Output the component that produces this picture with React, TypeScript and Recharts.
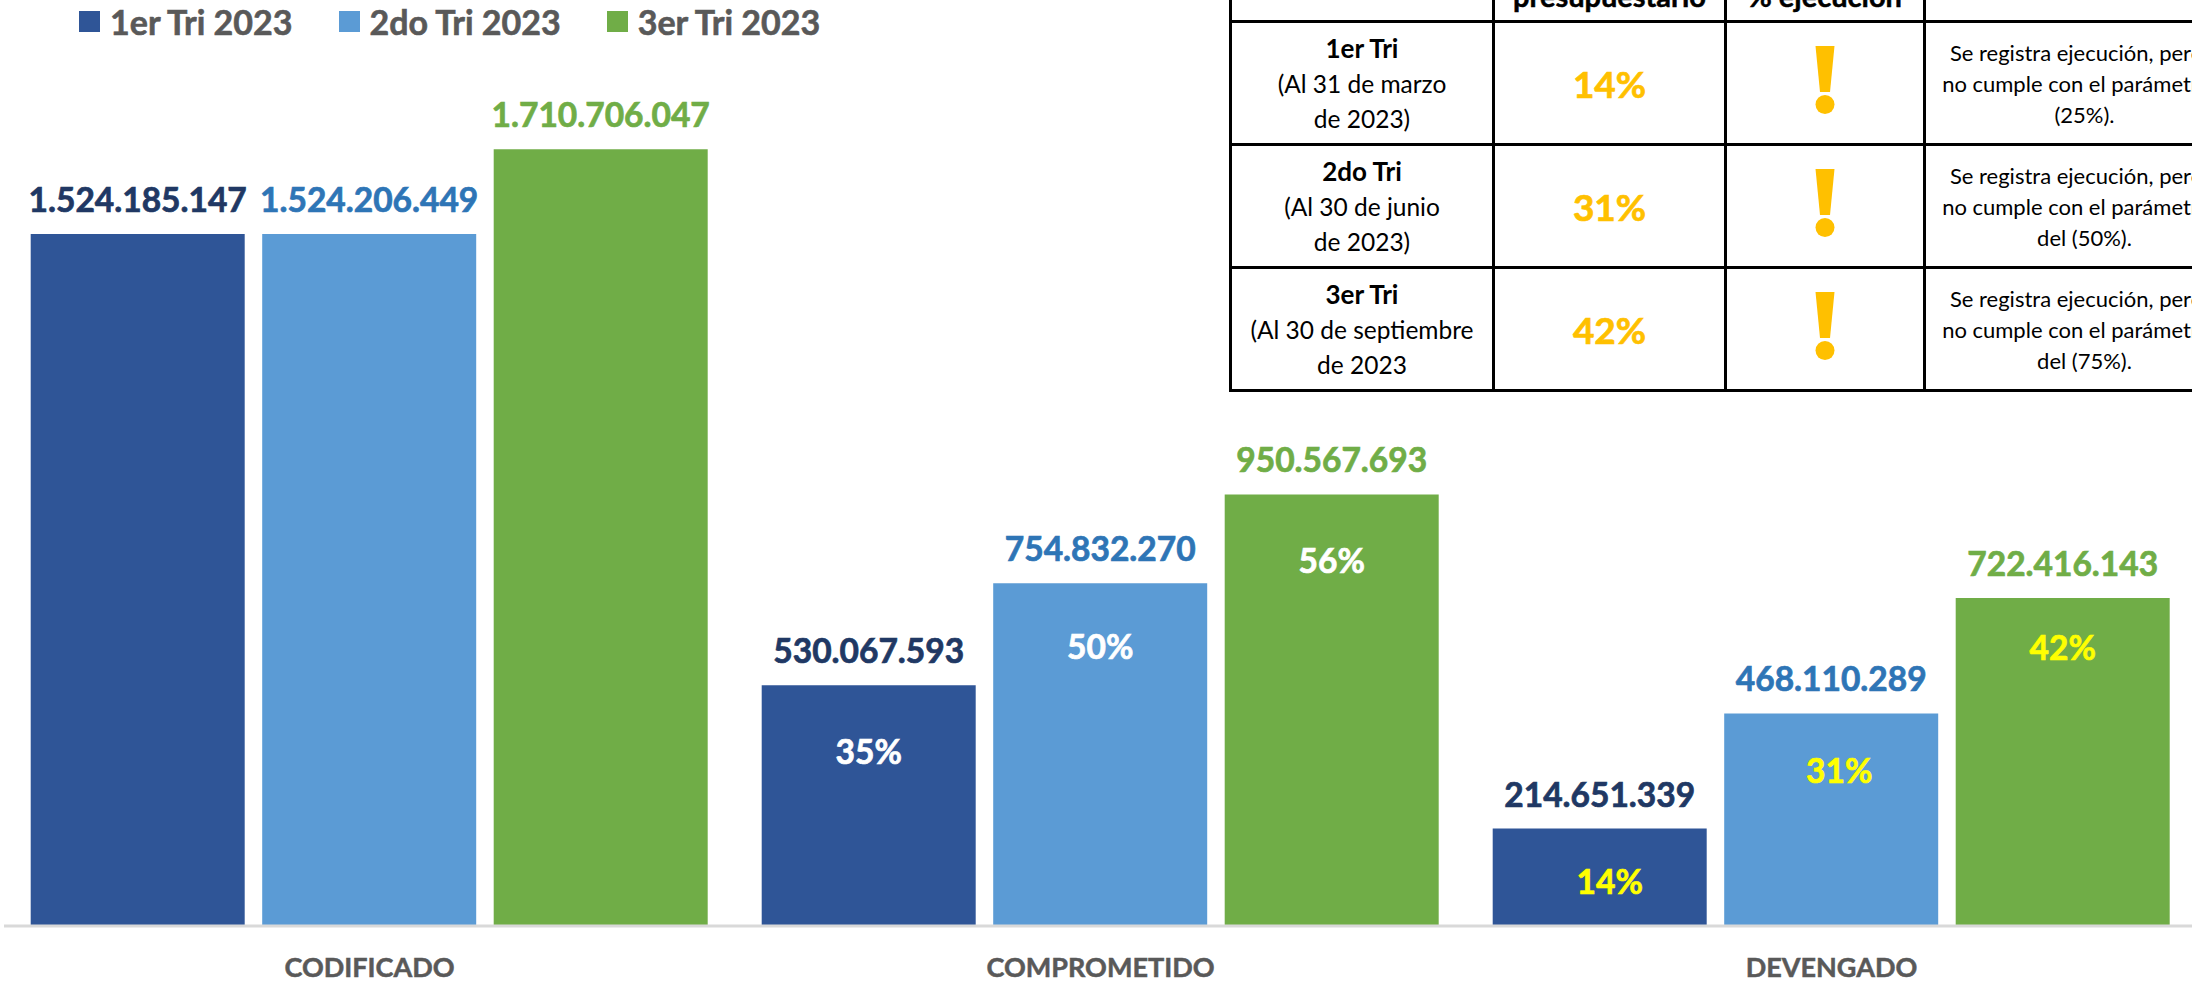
import { BarChart, Bar, XAxis, YAxis, Legend, LabelList } from "recharts"

const categories = ["CODIFICADO", "COMPROMETIDO", "DEVENGADO"]
const tri1 = [1524185147, 530067593, 214651339]
const tri2 = [1524206449, 754832270, 468110289]
const tri3 = [1710706047, 950567693, 722416143]
const pct1 = [null, 35, 14]
const pct2 = [null, 50, 31]
const pct3 = [null, 56, 42]

const seriesNames = ["1er Tri 2023", "2do Tri 2023", "3er Tri 2023"]

const tableTri = ["1er Tri", "2do Tri", "3er Tri"]
const tableDates = [
  ["(Al 31 de marzo", "de 2023)"],
  ["(Al 30 de junio", "de 2023)"],
  ["(Al 30 de septiembre", "de 2023"],
]
const tablePct = ["14%", "31%", "42%"]
const tableNotes = ["(25%).", "del (50%).", "del (75%)."]

const data = categories.map((name, i) => ({
  name,
  tri1: tri1[i],
  tri2: tri2[i],
  tri3: tri3[i],
  pct1: pct1[i],
  pct2: pct2[i],
  pct3: pct3[i],
}))

const font = "Lato, sans-serif"

// the percent labels were placed by hand in the original, so they don't sit at a fixed spot
const pctShift = {
  pct1: [null, [0, 67], [10, 53]],
  pct2: [null, [0, 64], [8, 58]],
  pct3: [null, [0, 67], [0, 50]],
}

function formatValue(v: number) {
  return String(v).replace(/\B(?=(\d{3})+$)/g, ".")
}

function valueLabel(color: string) {
  return (props: any) => (
    <text
      x={props.x + props.width / 2}
      y={props.y - 22}
      textAnchor="middle"
      fill={color}
      stroke={color}
      strokeWidth={0.7}
      fontFamily={font}
      fontWeight={700}
      fontSize={33.5}
    >
      {formatValue(props.value)}
    </text>
  )
}

function pctLabel(key: "pct1" | "pct2" | "pct3") {
  return (props: any) => {
    if (props.value == null) return null
    const [dx, dy] = pctShift[key][props.index] as number[]
    const color = props.value === 14 || props.value === 31 || props.value === 42 ? "#FFFF00" : "#FFFFFF"
    return (
      <text
        x={props.x + props.width / 2 + dx}
        y={props.y + dy + 12}
        textAnchor="middle"
        fill={color}
        stroke={color}
        strokeWidth={0.7}
        fontFamily={font}
        fontWeight={700}
        fontSize={33.5}
      >
        {props.value}%
      </text>
    )
  }
}

function LegendRow({ payload }: any) {
  return (
    <div
      style={{
        display: "flex",
        fontFamily: font,
        fontWeight: 700,
        fontSize: 34,
        color: "#595959",
        height: 40,
        alignItems: "center",
        WebkitTextStroke: "0.6px #595959",
      }}
    >
      {(payload || []).map((item: any) => (
        <div key={item.value} style={{ display: "flex", alignItems: "center", marginRight: 46 }}>
          <span style={{ width: 21, height: 21, background: item.color, marginRight: 10 }} />
          <span>{item.value}</span>
        </div>
      ))}
    </div>
  )
}

function Bang() {
  return (
    <svg width="20" height="68" viewBox="0 0 20 68" style={{ display: "block", margin: "-6px auto 0" }}>
      <polygon points="0.5,0 19.5,0 15,46 5,46" fill="#FFC000" />
      <ellipse cx="10" cy="58.5" rx="9.5" ry="9.5" fill="#FFC000" />
    </svg>
  )
}

const cell: React.CSSProperties = {
  border: "3px solid #000",
  textAlign: "center",
  padding: 0,
  color: "#000",
}

const headCell: React.CSSProperties = {
  ...cell,
  fontWeight: 700,
  fontSize: 29,
  verticalAlign: "top",
  lineHeight: "48px",
  paddingTop: 10,
  WebkitTextStroke: "0.5px #000",
}

function StatusTable() {
  return (
    <table
      style={{
        position: "absolute",
        left: 1229,
        top: -41,
        width: 998,
        tableLayout: "fixed",
        borderCollapse: "collapse",
        fontFamily: font,
        background: "#fff",
      }}
    >
      <colgroup>
        <col style={{ width: 263 }} />
        <col style={{ width: 232 }} />
        <col style={{ width: 199 }} />
        <col style={{ width: 304 }} />
      </colgroup>
      <tbody>
        <tr style={{ height: 61 }}>
          <td style={cell} />
          <td style={headCell}>presupuestario</td>
          <td style={headCell}>% ejecución</td>
          <td style={cell} />
        </tr>
        {tableTri.map((tri, i) => (
          <tr key={tri} style={{ height: 123 }}>
            <td style={{ ...cell, fontSize: 24.5, lineHeight: "35px" }}>
              <div style={{ fontWeight: 700, fontSize: 26 }}>{tri}</div>
              <div>{tableDates[i][0]}</div>
              <div>{tableDates[i][1]}</div>
            </td>
            <td style={{ ...cell, fontSize: 37, fontWeight: 700, color: "#FFC000", WebkitTextStroke: "0.7px #FFC000" }}>{tablePct[i]}</td>
            <td style={cell}>
              <Bang />
            </td>
            <td style={{ ...cell, fontSize: 22, lineHeight: "31px" }}>
              <div>Se registra ejecución, pero</div>
              <div>no cumple con el parámetro</div>
              <div style={{ paddingLeft: 16 }}>{tableNotes[i]}</div>
            </td>
          </tr>
        ))}
      </tbody>
    </table>
  )
}

export default function App() {
  return (
    <div style={{ position: "absolute", left: 0, top: 0, width: 2192, height: 982, overflow: "hidden", background: "#fff" }}>
      <BarChart
        width={2202}
        height={982}
        data={data}
        margin={{ top: 18, right: 5, bottom: 0, left: 4 }}
        barGap={17.5}
        barCategoryGap={26.7}
      >
        <XAxis
          dataKey="name"
          height={56}
          tickLine={false}
          axisLine={{ stroke: "#D9D9D9", strokeWidth: 3 }}
          tickMargin={26}
          tick={{ fill: "#595959", stroke: "#595959", strokeWidth: 0.5, fontSize: 27, fontWeight: 700, fontFamily: font }}
        />
        <YAxis hide domain={[0, 2000000000]} />
        <Legend
          layout="horizontal"
          align="center"
          verticalAlign="middle"
          content={<LegendRow />}
          wrapperStyle={{ left: 79, top: 1, width: 900 }}
        />
        <Bar dataKey="tri1" name={seriesNames[0]} fill="#2F5597" isAnimationActive={false}>
          <LabelList dataKey="tri1" content={valueLabel("#203864")} />
          <LabelList dataKey="pct1" content={pctLabel("pct1")} />
        </Bar>
        <Bar dataKey="tri2" name={seriesNames[1]} fill="#5B9BD5" isAnimationActive={false}>
          <LabelList dataKey="tri2" content={valueLabel("#2E75B6")} />
          <LabelList dataKey="pct2" content={pctLabel("pct2")} />
        </Bar>
        <Bar dataKey="tri3" name={seriesNames[2]} fill="#70AD47" isAnimationActive={false}>
          <LabelList dataKey="tri3" content={valueLabel("#70AD47")} />
          <LabelList dataKey="pct3" content={pctLabel("pct3")} />
        </Bar>
      </BarChart>
      <StatusTable />
    </div>
  )
}
